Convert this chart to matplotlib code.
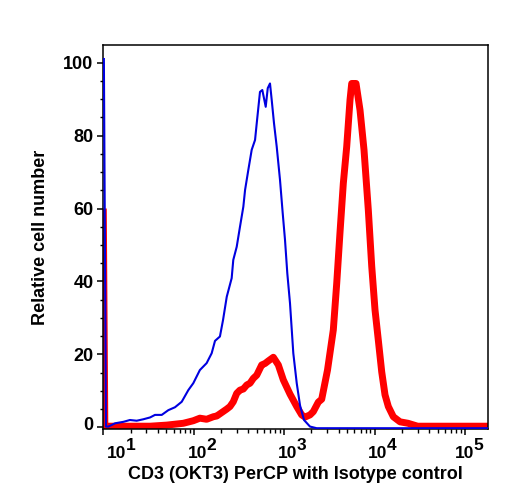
import matplotlib
matplotlib.use("Agg")
import matplotlib.pyplot as plt
from matplotlib.ticker import FixedLocator, NullFormatter, MultipleLocator
from matplotlib.transforms import ScaledTranslation

plt.rcParams['font.family'] = ['Liberation Sans', 'DejaVu Sans']
plt.rcParams['font.weight'] = 'bold'

# ---- data ----
blue_x = [10.15, 10.7, 11.4, 13.5, 16.7, 19.7, 23.4, 27.7, 32.9, 37.3, 44.3, 52.4,
          62.1, 73.7, 87.2, 99.0, 117, 139, 158, 172, 195, 211, 232, 263, 274,
          299, 325, 354, 370, 402, 438, 477, 498, 541, 574, 626, 659, 698, 729,
          773, 828, 901, 965, 1023, 1085, 1162, 1264, 1379, 1500, 1660, 1934,
          2294, 180000]
blue_y = [101, 0.2, 0.2, 1.1, 1.5, 2.0, 1.8, 2.2, 2.7, 3.4, 3.4, 4.7,
          5.5, 7.0, 10.2, 12.1, 15.7, 17.6, 20.3, 23.7, 24.9, 29.4, 35.8, 40.9, 45.9,
          49.5, 55.0, 60.5, 65.1, 70.6, 76.1, 78.8, 83.4, 92.0, 92.5, 87.9, 93.0, 94.3, 89.8,
          83.4, 77.0, 67.8, 58.7, 51.4, 42.2, 34.0, 20.3, 12.1, 6.0, 2.0, 0.2,
          -0.25, -0.25]

red_x = [10.0, 10.4, 25.5, 32.9, 50.3, 76.7, 99.0, 117, 139, 165, 180, 232, 252,
         274, 299, 325, 354, 386, 420, 456, 498, 565, 615, 669, 760, 863, 980,
         1162, 1379, 1565, 1702, 1934, 2104, 2389, 2605, 3020, 3501, 3819, 4153,
         4517, 4926, 5358, 5595, 6243, 6913, 7651, 8539, 9311, 10127, 11015,
         12014, 13065, 14211, 16143, 19147, 23490, 30000, 180000]
red_y = [60, 0.3, 0.3, 0.3, 0.6, 1.1, 1.8, 2.5, 2.2, 2.9, 3.1, 5.0, 5.7,
         7.0, 9.3, 10.2, 10.5, 11.6, 12.1, 13.4, 14.3, 17.1, 17.5, 18.2, 19.2, 17.1, 13.0,
         9.1, 5.7, 3.4, 2.8, 3.4, 4.3, 6.9, 7.7, 15.7, 26.7, 39.5, 53.5,
         66.9, 77.0, 89.8, 94.3, 94.3, 87.0, 76.1, 59.6, 44.2, 32.2, 23.9,
         15.2, 8.9, 5.7, 2.9, 1.5, 1.1, 0.3, 0.3]

y_ticks = [0, 20, 40, 60, 80, 100]
x_decades = [1, 2, 3, 4, 5]
x_label = "CD3 (OKT3) PerCP with Isotype control"
y_label = "Relative cell number"

# ---- figure ----
W, H = 508, 500
fig = plt.figure(figsize=(W / 100, H / 100), dpi=100)
L, R, T, B = 103.3, 488.0, 45.0, 429.3
ax = fig.add_axes([L / W, 1 - B / H, (R - L) / W, (B - T) / H])

ax.plot(red_x, red_y, color='#ff0000', lw=5.0, solid_joinstyle='round',
        solid_capstyle='butt', zorder=2)
ax.plot(blue_x, blue_y, color='#0000e0', lw=1.5, zorder=3)

ax.set_xscale('log')
ax.set_xlim(10, 1.8e5)
ax.set_ylim(-0.55, 104.85)

for s in ax.spines.values():
    s.set_linewidth(1.1)

TICK_FS = 13
# y ticks
ax.yaxis.set_major_locator(FixedLocator(y_ticks))
ax.yaxis.set_minor_locator(MultipleLocator(5))
ax.set_yticklabels([str(v) for v in y_ticks], fontsize=TICK_FS, fontweight='bold')
ax.tick_params(axis='y', which='major', direction='out', length=4.5, width=1.1, pad=2.5)
ax.tick_params(axis='y', which='minor', direction='out', length=2.5, width=1.0)

# x ticks (labels drawn separately as "10" + exponent)
major_x = [10.0 ** k for k in x_decades]
minor_x = [m * 10.0 ** k for k in x_decades for m in range(2, 10)]
ax.xaxis.set_major_locator(FixedLocator(major_x))
ax.xaxis.set_minor_locator(FixedLocator(minor_x))
ax.xaxis.set_major_formatter(NullFormatter())
ax.xaxis.set_minor_formatter(NullFormatter())
ax.tick_params(axis='x', which='major', direction='out', length=4.5, width=1.1)
ax.tick_params(axis='x', which='minor', direction='out', length=2.8, width=1.0)

XT_FS = 12.5
label_dx = [4.0, -5.5, -6.0, -6.3, -10.0]
for k, xv, dx in zip(x_decades, major_x, label_dx):
    ax.annotate("10", xy=(xv, 0), xycoords=('data', 'axes fraction'),
                xytext=(dx, -29.0), textcoords='offset pixels',
                ha='left', va='baseline', fontsize=XT_FS, fontweight='bold',
                annotation_clip=False)
    ax.annotate(str(k), xy=(xv, 0), xycoords=('data', 'axes fraction'),
                xytext=(dx + 18.5, -20.4), textcoords='offset pixels',
                ha='left', va='baseline', fontsize=XT_FS, fontweight='bold',
                annotation_clip=False)

ax.set_xlabel(x_label, fontsize=13, fontweight='bold')
ax.xaxis.set_label_coords(0.5, -0.0955)
ax.set_ylabel(y_label, fontsize=13, fontweight='bold')
ax.yaxis.set_label_coords(-0.140, 0.5)

# shift the "0" label upward as in the reference
lab0 = ax.get_yticklabels()[0]
lab0.set_transform(lab0.get_transform() + ScaledTranslation(0, 4 / 100, fig.dpi_scale_trans))

fig.savefig("out.png", dpi=100)
